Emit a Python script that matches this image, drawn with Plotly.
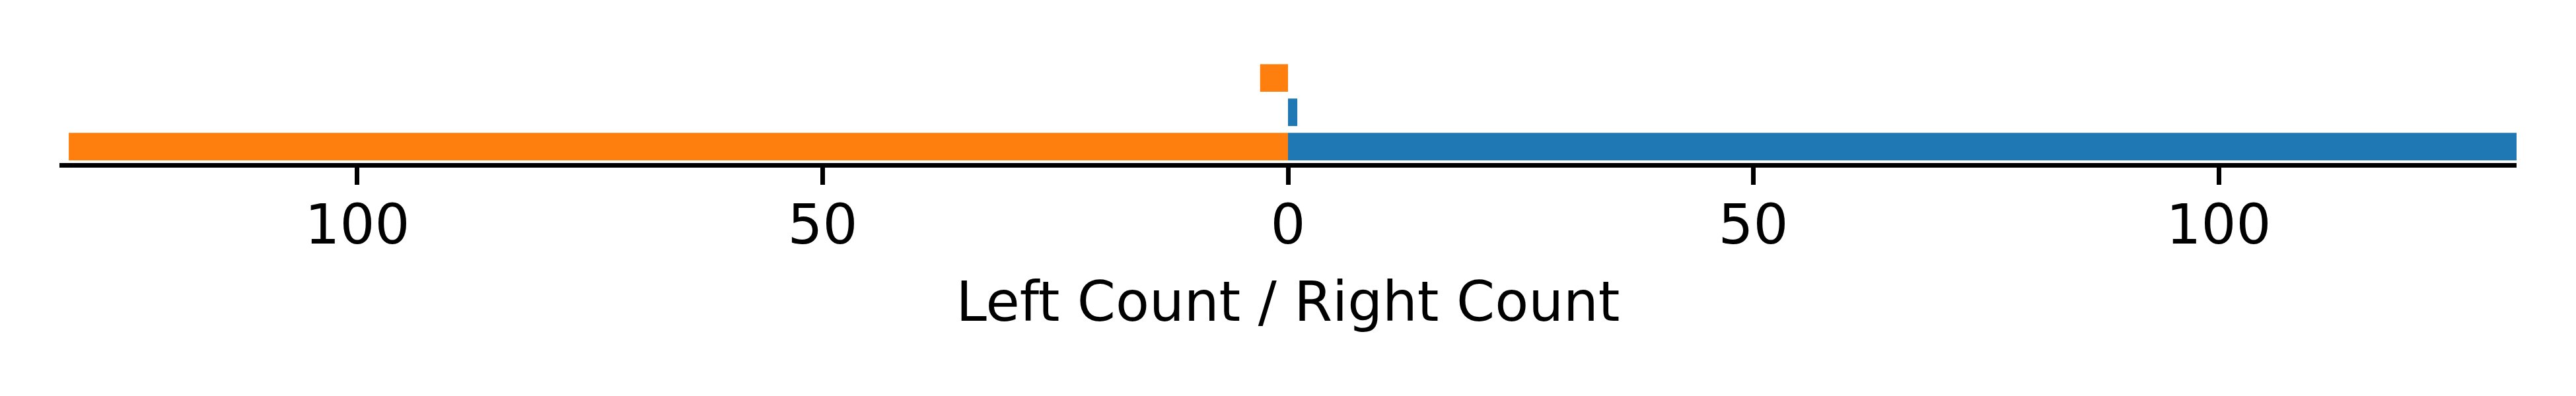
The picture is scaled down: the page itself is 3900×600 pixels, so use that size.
import plotly.graph_objects as go

rows = [0, 1, 2]
left_counts = [131, 0, 3]
right_counts = [132, 1, 0]
tick_vals = [-100, -50, 0, 50, 100]
tick_text = ["100", "50", "0", "50", "100"]
x_limit = 132

ORANGE = "#ff7f0e"
BLUE = "#1f77b4"
FS = 83.3

fig = go.Figure()
fig.add_trace(go.Bar(y=rows, x=[-v for v in left_counts], orientation="h",
                     marker=dict(color=ORANGE, line=dict(width=0)), width=0.8,
                     name="Left"))
fig.add_trace(go.Bar(y=rows, x=right_counts, orientation="h",
                     marker=dict(color=BLUE, line=dict(width=0)), width=0.8,
                     name="Right"))

fig.update_layout(
    width=3892, height=592,
    margin=dict(l=82, r=90, t=82, b=353, pad=0),
    paper_bgcolor="white", plot_bgcolor="white",
    barmode="overlay", showlegend=False,
    font=dict(family="DejaVu Sans", size=FS, color="black"),
    xaxis=dict(range=[-x_limit, x_limit], autorange=False,
               tickvals=tick_vals, ticktext=tick_text,
               showline=True, linecolor="black", linewidth=6.67,
               ticks="outside", ticklen=26, tickwidth=6.67, tickcolor="black",
               showgrid=False, zeroline=False, ticklabelstandoff=-11,
               automargin=False,
               tickfont=dict(size=FS, family="DejaVu Sans", color="black"),
               title=dict(text="Left Count / Right Count", standoff=42,
                          font=dict(size=FS, family="DejaVu Sans", color="black"))),
    yaxis=dict(range=[-0.477, 2.54], autorange=False, showticklabels=False,
               showgrid=False, zeroline=False, showline=False, ticks=""),
)

fig.write_html("out.html")
